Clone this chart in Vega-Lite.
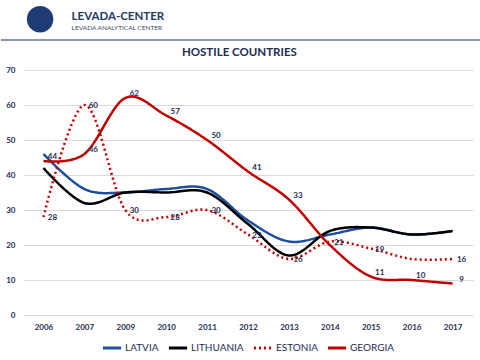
{
  "$schema": "https://vega.github.io/schema/vega-lite/v6.json",
  "background": "white",
  "padding": 0,
  "spacing": 5,
  "config": {
    "font": "Lato",
    "view": {"stroke": null},
    "legend": {
      "orient": "bottom",
      "direction": "horizontal",
      "symbolType": "stroke",
      "symbolStrokeWidth": 3,
      "symbolSize": 330,
      "labelFont": "Lato",
      "labelFontSize": 10,
      "labelColor": "#1f2d50",
      "columnPadding": 3,
      "labelOffset": 2,
      "offset": 6,
      "layout": {"bottom": {"anchor": "middle", "bounds": "full"}}
    }
  },
  "vconcat": [
    {
      "width": 450,
      "height": 40,
      "data": {"values": [{"org": "LEVADA-CENTER", "tagline": "LEVADA ANALYTICAL CENTER"}]},
      "layer": [
        {
          "mark": {"type": "point", "filled": true, "size": 700, "color": "#1f3b73", "opacity": 1},
          "encoding": {
            "x": {"datum": 0.038, "type": "quantitative", "scale": {"domain": [0, 1], "nice": false, "zero": false}, "axis": null},
            "y": {"datum": 0.52, "type": "quantitative", "scale": {"domain": [0, 1], "nice": false, "zero": false}, "axis": null}
          }
        },
        {
          "mark": {"type": "text", "align": "left", "baseline": "alphabetic", "fontSize": 11.5, "fontWeight": "bold", "color": "#1f3864"},
          "encoding": {
            "x": {"datum": 0.108, "type": "quantitative"},
            "y": {"datum": 0.5, "type": "quantitative"},
            "text": {"field": "org"}
          }
        },
        {
          "mark": {"type": "text", "align": "left", "baseline": "alphabetic", "fontSize": 6.5, "color": "#3b4a63"},
          "encoding": {
            "x": {"datum": 0.108, "type": "quantitative"},
            "y": {"datum": 0.24, "type": "quantitative"},
            "text": {"field": "tagline"}
          }
        },
        {
          "mark": {"type": "rule", "color": "#8c98a6", "strokeWidth": 2},
          "encoding": {
            "x": {"datum": -0.0488, "type": "quantitative"},
            "x2": {"datum": 1.0155},
            "y": {"datum": 0, "type": "quantitative"}
          }
        }
      ]
    },
    {
      "width": 450,
      "height": 245,
      "title": {"text": "HOSTILE COUNTRIES", "fontSize": 11.5, "fontWeight": "bold", "color": "#1f2d50", "frame": "bounds", "anchor": "middle", "offset": 8},
      "data": {
        "values": [
          {"year": "2006", "series": "LATVIA", "value": 46, "lab": null},
          {"year": "2007", "series": "LATVIA", "value": 36, "lab": null},
          {"year": "2009", "series": "LATVIA", "value": 35, "lab": null},
          {"year": "2010", "series": "LATVIA", "value": 36, "lab": null},
          {"year": "2011", "series": "LATVIA", "value": 36, "lab": null},
          {"year": "2012", "series": "LATVIA", "value": 27, "lab": null},
          {"year": "2013", "series": "LATVIA", "value": 21, "lab": null},
          {"year": "2014", "series": "LATVIA", "value": 23, "lab": null},
          {"year": "2015", "series": "LATVIA", "value": 25, "lab": null},
          {"year": "2016", "series": "LATVIA", "value": 23, "lab": null},
          {"year": "2017", "series": "LATVIA", "value": 24, "lab": null},
          {"year": "2006", "series": "LITHUANIA", "value": 42, "lab": null},
          {"year": "2007", "series": "LITHUANIA", "value": 32, "lab": null},
          {"year": "2009", "series": "LITHUANIA", "value": 35, "lab": null},
          {"year": "2010", "series": "LITHUANIA", "value": 35, "lab": null},
          {"year": "2011", "series": "LITHUANIA", "value": 35, "lab": null},
          {"year": "2012", "series": "LITHUANIA", "value": 26, "lab": null},
          {"year": "2013", "series": "LITHUANIA", "value": 17, "lab": null},
          {"year": "2014", "series": "LITHUANIA", "value": 24, "lab": null},
          {"year": "2015", "series": "LITHUANIA", "value": 25, "lab": null},
          {"year": "2016", "series": "LITHUANIA", "value": 23, "lab": null},
          {"year": "2017", "series": "LITHUANIA", "value": 24, "lab": null},
          {"year": "2006", "series": "ESTONIA", "value": 28, "lab": "28"},
          {"year": "2007", "series": "ESTONIA", "value": 60, "lab": "60"},
          {"year": "2009", "series": "ESTONIA", "value": 30, "lab": "30"},
          {"year": "2010", "series": "ESTONIA", "value": 28, "lab": "28"},
          {"year": "2011", "series": "ESTONIA", "value": 30, "lab": "30"},
          {"year": "2012", "series": "ESTONIA", "value": 23, "lab": "23"},
          {"year": "2013", "series": "ESTONIA", "value": 16, "lab": "16"},
          {"year": "2014", "series": "ESTONIA", "value": 21, "lab": "21"},
          {"year": "2015", "series": "ESTONIA", "value": 19, "lab": "19"},
          {"year": "2016", "series": "ESTONIA", "value": 16, "lab": null},
          {"year": "2017", "series": "ESTONIA", "value": 16, "lab": "16"},
          {"year": "2006", "series": "GEORGIA", "value": 44, "lab": "44"},
          {"year": "2007", "series": "GEORGIA", "value": 46, "lab": "46"},
          {"year": "2009", "series": "GEORGIA", "value": 62, "lab": "62"},
          {"year": "2010", "series": "GEORGIA", "value": 57, "lab": "57"},
          {"year": "2011", "series": "GEORGIA", "value": 50, "lab": "50"},
          {"year": "2012", "series": "GEORGIA", "value": 41, "lab": "41"},
          {"year": "2013", "series": "GEORGIA", "value": 33, "lab": "33"},
          {"year": "2014", "series": "GEORGIA", "value": 20, "lab": null},
          {"year": "2015", "series": "GEORGIA", "value": 11, "lab": "11"},
          {"year": "2016", "series": "GEORGIA", "value": 10, "lab": "10"},
          {"year": "2017", "series": "GEORGIA", "value": 9, "lab": "9"}
        ]
      },
      "encoding": {
        "x": {
          "field": "year", "type": "ordinal", "title": null,
          "axis": {"labelAngle": 0, "ticks": false, "domain": true, "domainColor": "#d9d9d9", "labelPadding": 8, "labelFontSize": 8, "labelFontWeight": "bold", "labelColor": "#1f2d50"}
        },
        "y": {
          "field": "value", "type": "quantitative", "title": null,
          "scale": {"domain": [0, 70], "nice": false},
          "axis": {"values": [0, 10, 20, 30, 40, 50, 60, 70], "grid": true, "gridColor": "#d9d9d9", "domain": false, "ticks": false, "labelPadding": 8, "labelFontSize": 8, "labelFontWeight": "bold", "labelColor": "#1f2d50"}
        }
      },
      "layer": [
        {
          "mark": {"type": "line", "interpolate": "cardinal", "tension": 0, "strokeWidth": 2.5},
          "encoding": {
            "color": {"field": "series", "type": "nominal", "title": null, "sort": null,
              "scale": {"domain": ["LATVIA", "LITHUANIA", "ESTONIA", "GEORGIA"], "range": ["#1f4e9c", "#000000", "#c00000", "#c00000"]}},
            "strokeDash": {"field": "series", "type": "nominal", "title": null, "sort": null,
              "scale": {"domain": ["LATVIA", "LITHUANIA", "ESTONIA", "GEORGIA"], "range": [[1, 0], [1, 0], [2, 3], [1, 0]]}}
          }
        },
        {
          "transform": [{"filter": "datum.lab != null && datum.series == 'GEORGIA'"}],
          "mark": {"type": "text", "dx": 9, "dy": -4, "fontSize": 8, "fontWeight": "bold", "color": "#1f2d50", "align": "center", "baseline": "middle"},
          "encoding": {"text": {"field": "lab"}}
        },
        {
          "transform": [{"filter": "datum.lab != null && datum.series == 'ESTONIA'"}],
          "mark": {"type": "text", "dx": 9, "dy": 1, "fontSize": 8, "fontWeight": "bold", "color": "#1f2d50", "align": "center", "baseline": "middle"},
          "encoding": {"text": {"field": "lab"}}
        }
      ]
    }
  ]
}
